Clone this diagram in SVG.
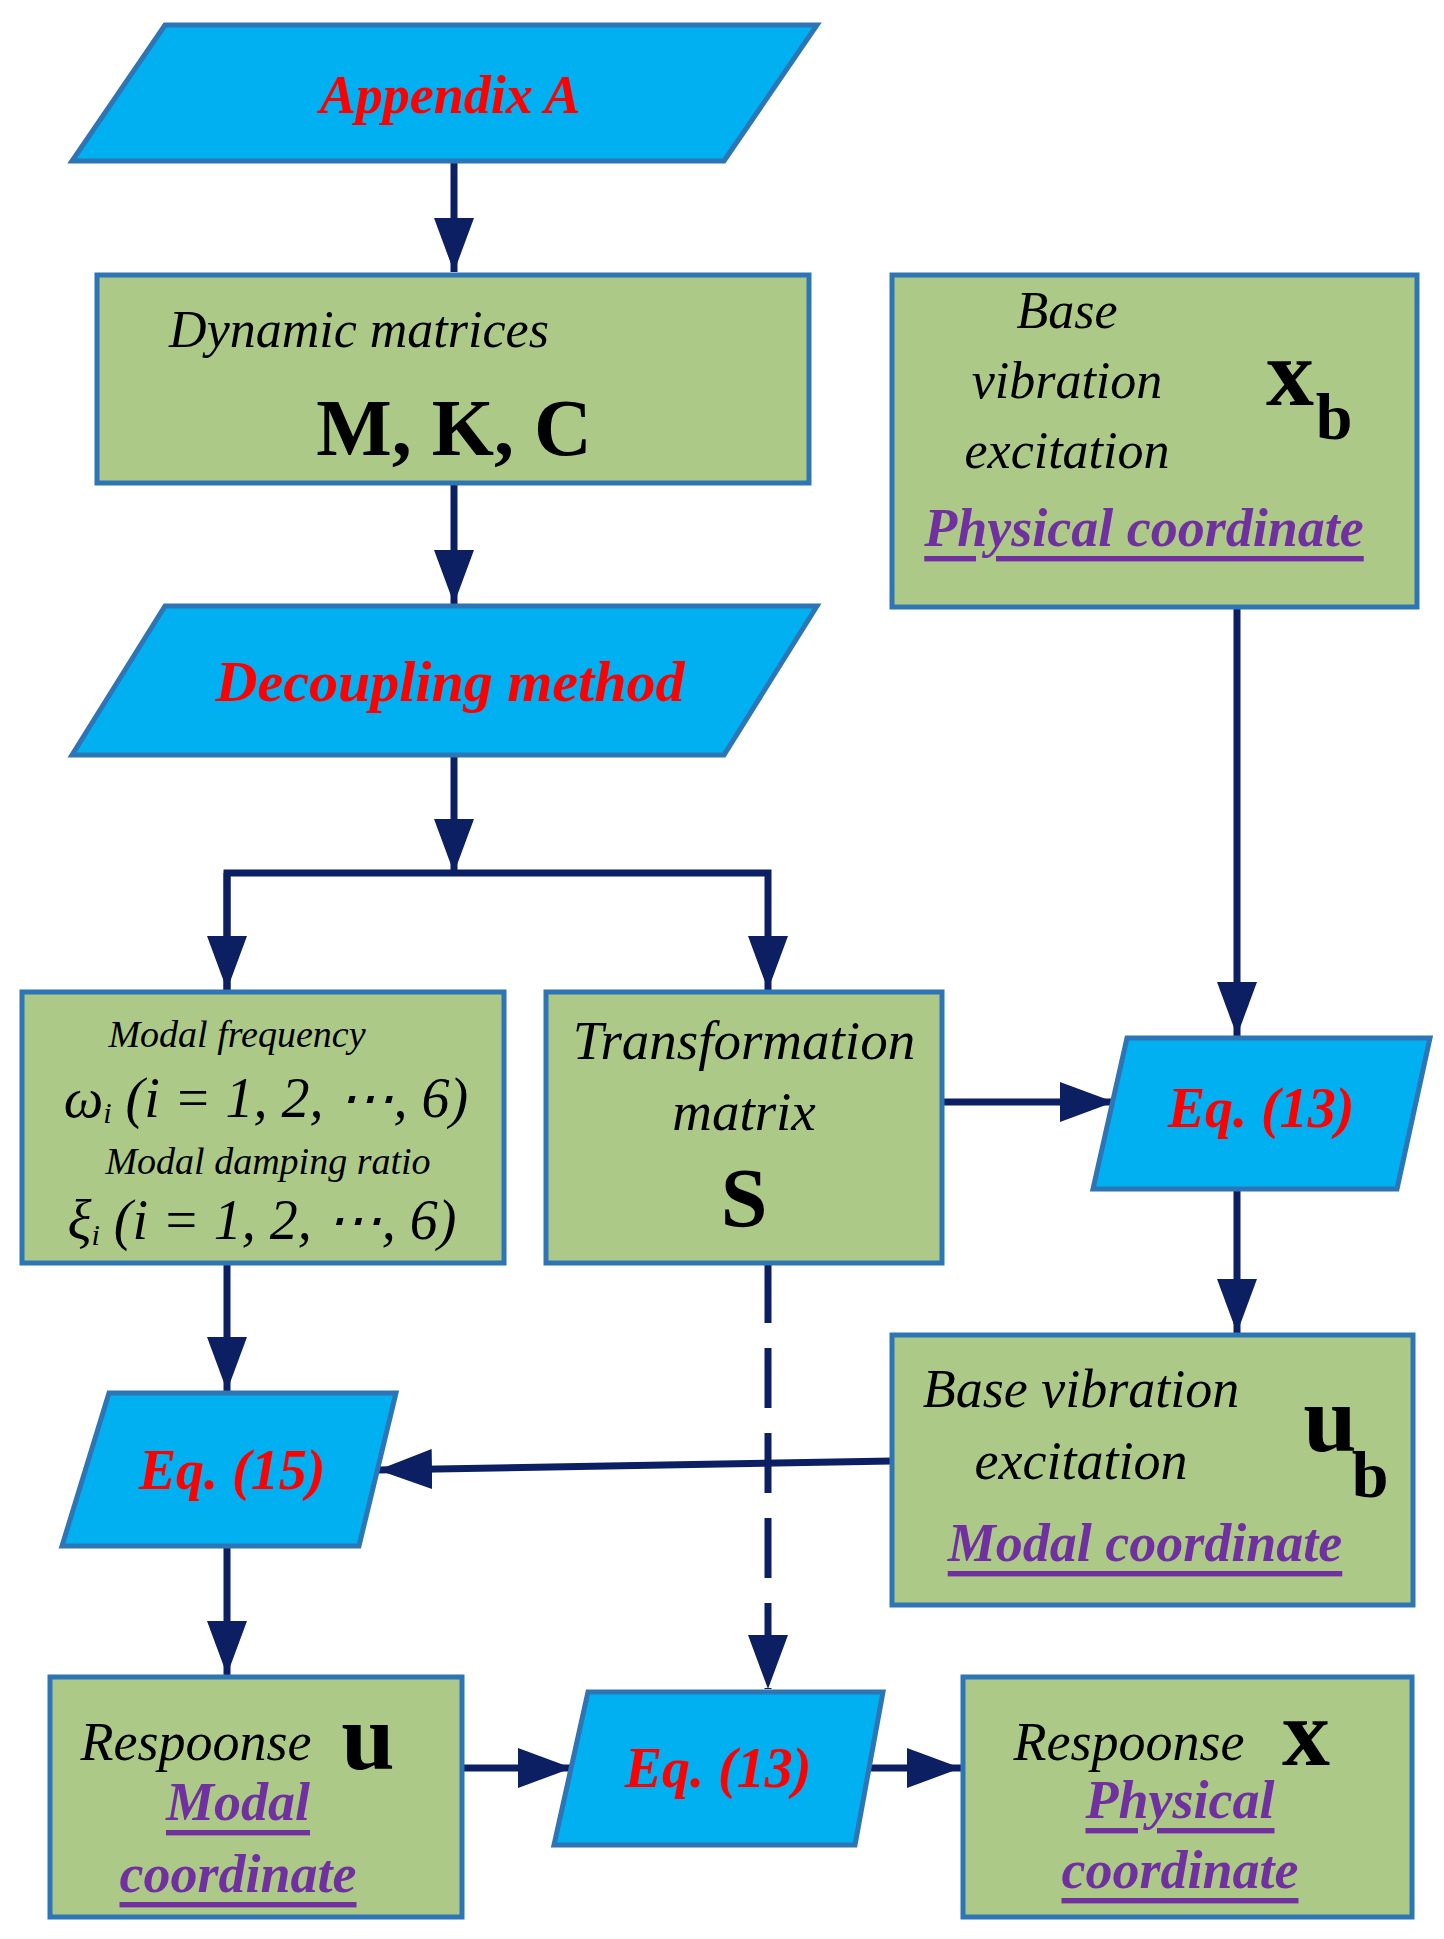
<svg xmlns="http://www.w3.org/2000/svg" width="1444" height="1939" viewBox="0 0 1444 1939">
<style>
.para{fill:#00b0f0;stroke:#2e75b6;stroke-width:5}
.box{fill:#adc987;stroke:#2e75b6;stroke-width:5}
.con{stroke:#0d1f63;stroke-width:7;fill:none}
text{font-family:"Liberation Serif",serif;dominant-baseline:central;text-anchor:middle}
.red{fill:#ff0000;font-weight:bold;font-style:italic}
.it{font-style:italic;fill:#000}
.bf{font-weight:bold;fill:#000}
.pur{fill:#7030a0;font-weight:bold;font-style:italic;text-decoration:underline}
</style>
<defs>
<marker id="ah" markerUnits="userSpaceOnUse" markerWidth="56" markerHeight="42" refX="54" refY="20" orient="auto">
<path d="M0,0 L54,20 L0,40 z" fill="#0d1f63"/>
</marker>
</defs>
<g id="connectors">
<line class="con" x1="454" y1="161" x2="454" y2="272" marker-end="url(#ah)"/>
<line class="con" x1="454" y1="483" x2="454" y2="604" marker-end="url(#ah)"/>
<line class="con" x1="454" y1="755" x2="454" y2="873" marker-end="url(#ah)"/>
<polyline class="con" points="227,990 227,873 768,873 768,990" marker-end="url(#ah)"/>
<line class="con" x1="227" y1="873" x2="227" y2="990" marker-end="url(#ah)"/>
<line class="con" x1="1237" y1="607" x2="1237" y2="1036" marker-end="url(#ah)"/>
<line class="con" x1="942" y1="1102" x2="1114" y2="1102" marker-end="url(#ah)"/>
<line class="con" x1="1237" y1="1189" x2="1237" y2="1333" marker-end="url(#ah)"/>
<line class="con" x1="892" y1="1461" x2="378" y2="1470" marker-end="url(#ah)"/>
<line class="con" x1="227" y1="1263" x2="227" y2="1391" marker-end="url(#ah)"/>
<line class="con" x1="227" y1="1546" x2="227" y2="1675" marker-end="url(#ah)"/>
<line class="con" x1="768" y1="1263" x2="768" y2="1689" stroke-dasharray="60,25" marker-end="url(#ah)"/>
<line class="con" x1="462" y1="1768" x2="572" y2="1768" marker-end="url(#ah)"/>
<line class="con" x1="855" y1="1768" x2="961" y2="1768" marker-end="url(#ah)"/>
</g>
<g id="appendix">
<polygon class="para" points="165,25 817,25 724,161 72,161"/>
<text x="450" y="95" class="red" font-size="54" font-weight="normal">Appendix A</text>
</g>
<g id="dynamic">
<rect class="box" x="97" y="275" width="712" height="208"/>
<text x="359" y="329" class="it" font-size="52">Dynamic matrices</text>
<text x="454" y="428" class="bf" font-size="80">M, K, C</text>
</g>
<g id="decoupling">
<polygon class="para" points="165,606 817,606 724,755 72,755"/>
<text x="450" y="681" class="red" font-size="58">Decoupling method</text>
</g>
<g id="base-x">
<rect class="box" x="892" y="275" width="525" height="332"/>
<text x="1067" y="310" class="it" font-size="52">Base</text>
<text x="1067" y="380" class="it" font-size="52">vibration</text>
<text x="1067" y="450" class="it" font-size="52">excitation</text>
<text x="1290" y="372" class="bf" font-size="96">x</text>
<text x="1334" y="416" class="bf" font-size="66" text-anchor="start">b</text>
<text x="1144" y="528" class="pur" font-size="54">Physical coordinate</text>
</g>
<g id="modal">
<rect class="box" x="22" y="992" width="482" height="271"/>
<text x="237" y="1034" class="it" font-size="38">Modal frequency</text>
<text x="266" y="1098" class="it" font-size="56">ω<tspan font-size="30" dy="14">i</tspan><tspan dy="-14"> (i = 1, 2, ⋯, 6)</tspan></text>
<text x="268" y="1161" class="it" font-size="38">Modal damping ratio</text>
<text x="262" y="1220" class="it" font-size="56">ξ<tspan font-size="30" dy="14">i</tspan><tspan dy="-14"> (i = 1, 2, ⋯, 6)</tspan></text>
</g>
<g id="transformation">
<rect class="box" x="546" y="992" width="396" height="271"/>
<text x="744" y="1040" class="it" font-size="55">Transformation</text>
<text x="744" y="1111" class="it" font-size="55">matrix</text>
<text x="744" y="1198" class="bf" font-size="84">S</text>
</g>
<g id="eq13-top">
<polygon class="para" points="1127,1038 1430,1038 1397,1189 1093,1189"/>
<text x="1261" y="1108" class="red" font-size="56">Eq. (13)</text>
</g>
<g id="base-u">
<rect class="box" x="892" y="1335" width="521" height="270"/>
<text x="1081" y="1389" class="it" font-size="54">Base vibration</text>
<text x="1081" y="1461" class="it" font-size="54">excitation</text>
<text x="1330" y="1418" class="bf" font-size="96">u</text>
<text x="1370" y="1474" class="bf" font-size="66" text-anchor="start">b</text>
<text x="1145" y="1543" class="pur" font-size="54">Modal coordinate</text>
</g>
<g id="eq15">
<polygon class="para" points="109,1393 396,1393 359,1546 62,1546"/>
<text x="232" y="1470" class="red" font-size="56">Eq. (15)</text>
</g>
<g id="response-u">
<rect class="box" x="50" y="1677" width="412" height="240"/>
<text x="196" y="1742" class="it" font-size="54">Respoonse</text>
<text x="368" y="1736" class="bf" font-size="96">u</text>
<text x="238" y="1802" class="pur" font-size="54">Modal</text>
<text x="238" y="1874" class="pur" font-size="54">coordinate</text>
</g>
<g id="eq13-bottom">
<polygon class="para" points="588,1692 883,1692 855,1845 554,1845"/>
<text x="718" y="1768" class="red" font-size="56">Eq. (13)</text>
</g>
<g id="response-x">
<rect class="box" x="963" y="1677" width="449" height="240"/>
<text x="1129" y="1742" class="it" font-size="54">Respoonse</text>
<text x="1306" y="1732" class="bf" font-size="96">x</text>
<text x="1180" y="1800" class="pur" font-size="54">Physical</text>
<text x="1180" y="1870" class="pur" font-size="54">coordinate</text>
</g>
</svg>
